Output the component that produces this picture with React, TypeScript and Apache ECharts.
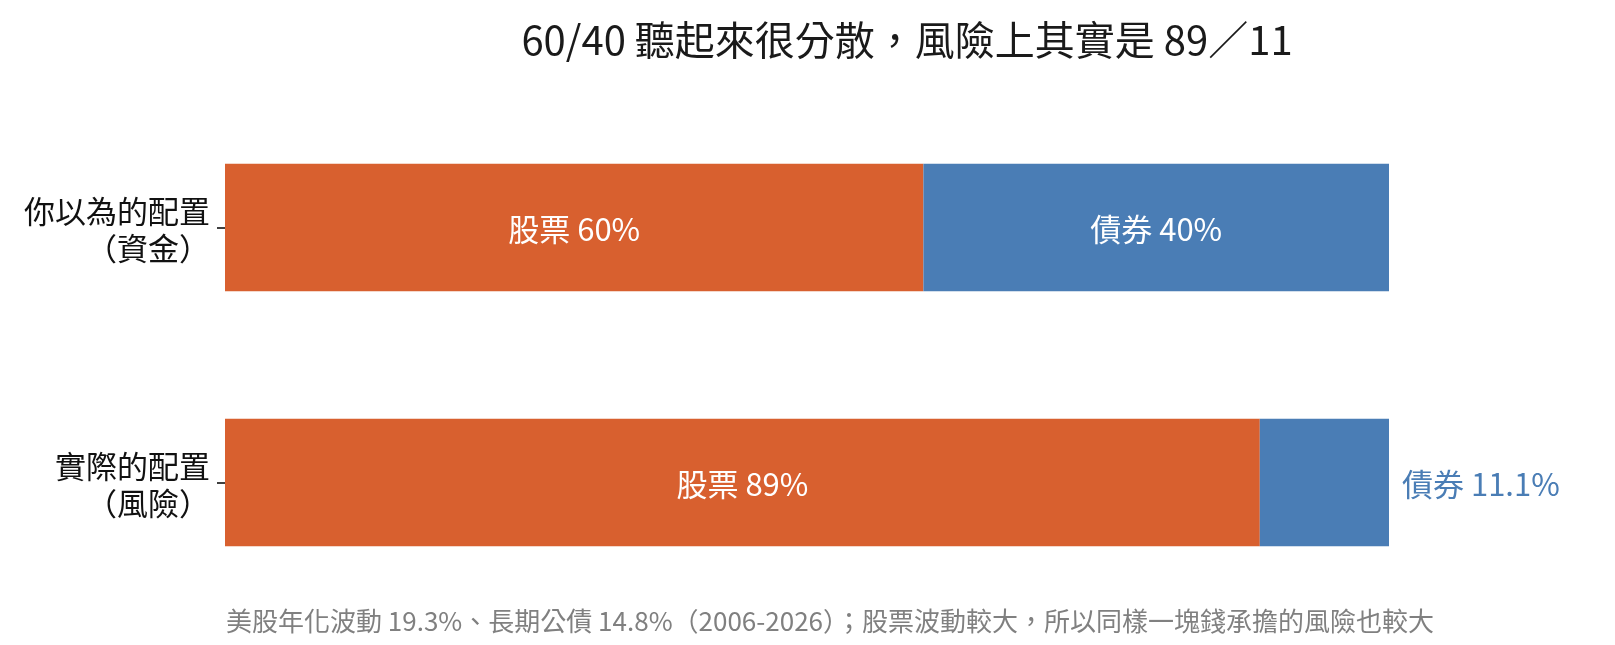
import { useEffect, useRef } from "react";
import * as echarts from "echarts";

const categories = ["你以為的配置\n（資金）", "實際的配置\n（風險）"];
const stockValues = [60, 88.9];
const bondValues = [40, 11.1];
const stockName = "股票";
const bondName = "債券";

const titleText = "60/40 聽起來很分散，風險上其實是 89／11";
const noteText =
    "美股年化波動 19.3%、長期公債 14.8%（2006-2026）；股票波動較大，所以同樣一塊錢承擔的風險也較大";

const ORANGE = "#D8602F";
const BLUE = "#4A7DB5";
const FONT = "'Noto Sans CJK TC', 'Noto Sans', sans-serif";

const fmtBond = (v: number) => (Number.isInteger(v) ? String(v) : v.toFixed(1));

const App = () => {
    const chartRef = useRef<HTMLDivElement>(null);

    useEffect(() => {
        if (!chartRef.current) return;
        const chart = echarts.init(chartRef.current, undefined, { renderer: "svg" });

        const options = {
            animation: false,
            textStyle: { fontFamily: FONT },
            grid: { left: 225, right: 226, top: 100, bottom: 35 },
            xAxis: {
                type: "value",
                min: 0,
                max: 100,
                show: false,
            },
            yAxis: {
                type: "category",
                data: categories,
                inverse: true,
                axisLine: { show: false },
                axisTick: {
                    show: true,
                    alignWithLabel: true,
                    length: 8,
                    lineStyle: { color: "#000", width: 1.5 },
                },
                axisLabel: {
                    color: "#111",
                    fontSize: 31,
                    lineHeight: 37,
                    margin: 15,
                    fontFamily: FONT,
                },
            },
            series: [
                {
                    name: stockName,
                    type: "bar",
                    stack: "total",
                    barWidth: "50%",
                    data: stockValues,
                    itemStyle: { color: ORANGE },
                    label: {
                        show: true,
                        position: "inside",
                        color: "#fff",
                        fontSize: 31,
                        fontFamily: FONT,
                        formatter: (p: any) => `${stockName} ${Math.round(p.value)}%`,
                    },
                },
                {
                    name: bondName,
                    type: "bar",
                    stack: "total",
                    barWidth: "50%",
                    data: bondValues.map((v, i) =>
                        i === 1
                            ? {
                                  value: v,
                                  label: {
                                      position: "right",
                                      distance: 13,
                                      color: BLUE,
                                  },
                              }
                            : v
                    ),
                    itemStyle: { color: BLUE },
                    label: {
                        show: true,
                        position: "inside",
                        color: "#fff",
                        fontSize: 31,
                        fontFamily: FONT,
                        formatter: (p: any) => `${bondName} ${fmtBond(p.value)}%`,
                    },
                },
            ],
            graphic: [
                {
                    type: "text",
                    x: 907,
                    y: 38,
                    style: {
                        text: titleText,
                        fill: "#1a1a1a",
                        fontSize: 40,
                        fontFamily: FONT,
                        textAlign: "center",
                        textVerticalAlign: "middle",
                    },
                },
                {
                    type: "text",
                    x: 226,
                    y: 619,
                    style: {
                        text: noteText,
                        fill: "#808080",
                        fontSize: 26,
                        fontFamily: FONT,
                        textAlign: "left",
                        textVerticalAlign: "middle",
                    },
                },
            ],
        };

        chart.setOption(options);

        return () => {
            chart.dispose();
        };
    }, []);

    return (
        <div
            ref={chartRef}
            style={{ position: "fixed", left: 0, top: 0, width: "1615px", height: "645px" }}
        />
    );
};

export default App;
